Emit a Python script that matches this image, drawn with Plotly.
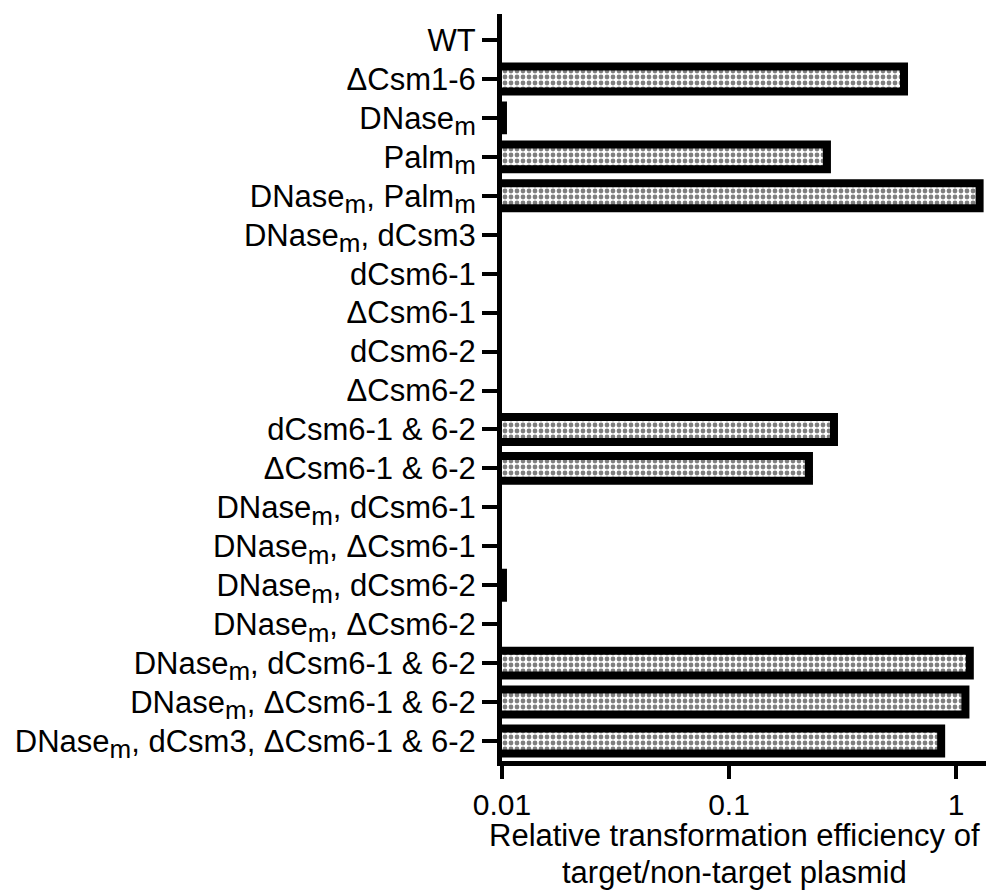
import plotly.graph_objects as go

SUB = '<sub><span style="font-size:26px">m</span></sub>'

categories = [
    "WT",
    "ΔCsm1-6",
    "DNase" + SUB,
    "Palm" + SUB,
    "DNase" + SUB + ", Palm" + SUB,
    "DNase" + SUB + ", dCsm3",
    "dCsm6-1",
    "ΔCsm6-1",
    "dCsm6-2",
    "ΔCsm6-2",
    "dCsm6-1 &amp; 6-2",
    "ΔCsm6-1 &amp; 6-2",
    "DNase" + SUB + ", dCsm6-1",
    "DNase" + SUB + ", ΔCsm6-1",
    "DNase" + SUB + ", dCsm6-2",
    "DNase" + SUB + ", ΔCsm6-2",
    "DNase" + SUB + ", dCsm6-1 &amp; 6-2",
    "DNase" + SUB + ", ΔCsm6-1 &amp; 6-2",
    "DNase" + SUB + ", dCsm3, ΔCsm6-1 &amp; 6-2",
]

efficiency = [
    None, 0.59, 0.0101, 0.27, 1.27, None, None, None, None, None,
    0.29, 0.225, None, None, 0.0101, None, 1.15, 1.10, 0.86,
]

x_tickvals = [0.01, 0.1, 1]
x_ticktext = ["0.01", "0.1", "1"]

x_title_lines = ["Relative transformation efficiency of", "target/non-target plasmid"]

FONT = "Liberation Sans, Arial, sans-serif"

fig = go.Figure(
    go.Bar(
        x=efficiency,
        y=categories,
        orientation="h",
        marker=dict(
            color="white",
            line=dict(color="black", width=8),
            pattern=dict(shape=".", fgcolor="black", bgcolor="white",
                         size=6, solidity=0.5),
        ),
        width=0.64,
        showlegend=False,
    )
)

fig.update_layout(
    width=986,
    height=895,
    margin=dict(l=502, r=0, t=14, b=134),
    paper_bgcolor="white",
    plot_bgcolor="white",
    font=dict(family=FONT, size=31, color="black"),
    xaxis=dict(
        type="log",
        range=[-2, 0.132],
        tickvals=x_tickvals,
        ticktext=x_ticktext,
        ticks="outside",
        ticklen=13,
        tickwidth=4,
        tickcolor="black",
        showline=True,
        linewidth=5,
        linecolor="black",
        showgrid=False,
        zeroline=False,
        tickfont=dict(size=30),
    ),
    yaxis=dict(
        type="category",
        categoryorder="array",
        categoryarray=categories,
        range=[18.514, -0.668],
        ticks="outside",
        ticklen=15,
        tickwidth=4,
        tickcolor="black",
        showline=True,
        linewidth=5,
        linecolor="black",
        showgrid=False,
        zeroline=False,
        tickfont=dict(size=31),
    ),
)

for i, line in enumerate(x_title_lines):
    fig.add_annotation(
        text=line,
        xref="paper", yref="paper",
        x=(734 - 502) / 484, y=-(836 - 761 + 36 * i) / 747,
        xanchor="center", yanchor="middle",
        showarrow=False,
        font=dict(size=31),
    )

fig.write_html("out.html")
